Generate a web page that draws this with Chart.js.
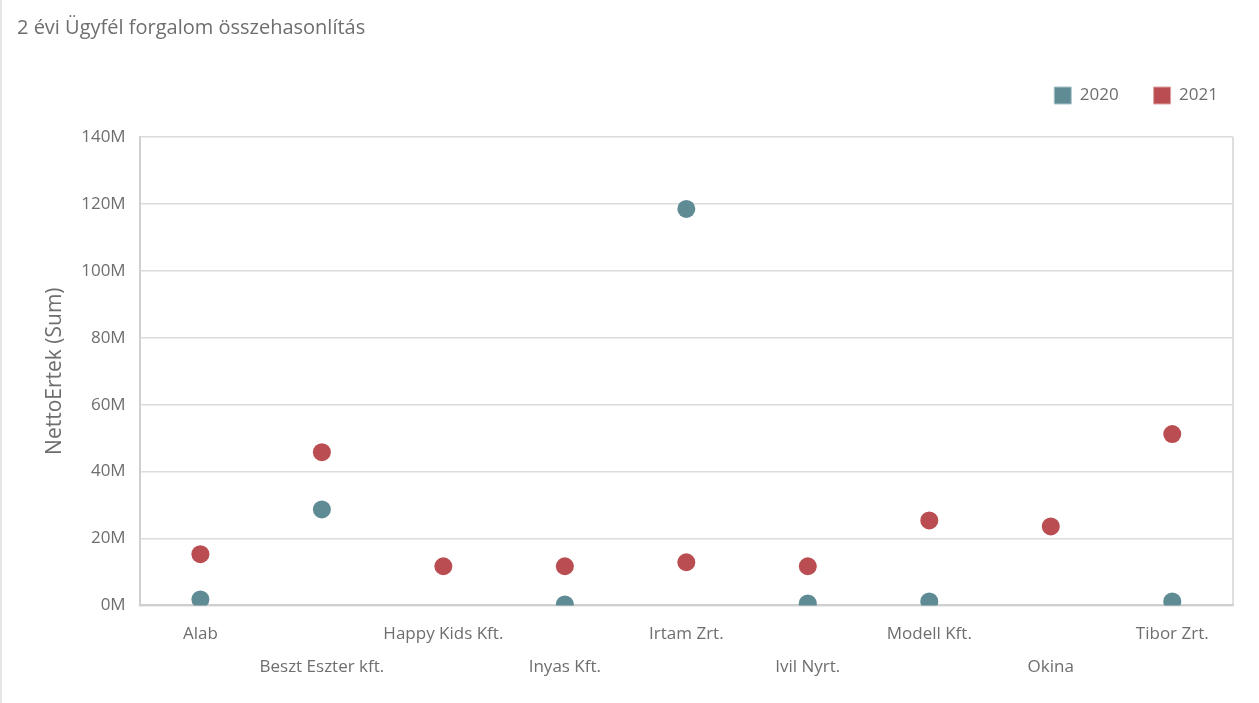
<!DOCTYPE html>
<html>
<head>
<meta charset="utf-8">
<script src="https://cdn.jsdelivr.net/npm/chart.js@4"></script>
<style>
  html, body { margin: 0; padding: 0; background: #fff; }
  #wrap { position: relative; width: 1259px; height: 703px; box-sizing: border-box; border-left: 2px solid #e6e6e6; }
</style>
</head>
<body>
<div id="wrap"><canvas id="main-chart"></canvas></div>
<script>
var customers = ["Alab", "Beszt Eszter kft.", "Happy Kids Kft.", "Inyas Kft.", "Irtam Zrt.", "Ivil Nyrt.", "Modell Kft.", "Okina", "Tibor Zrt."];
var values2020 = [1.8e6, 28.7e6, null, 0.3e6, 118.5e6, 0.6e6, 1.2e6, null, 1.2e6];
var values2021 = [15.3e6, 45.8e6, 11.7e6, 11.7e6, 12.9e6, 11.7e6, 25.4e6, 23.6e6, 51.2e6];
var yTicks = [0, 20e6, 40e6, 60e6, 80e6, 100e6, 120e6, 140e6];

var textColor = '#6e6e6e';
var fontFamily = '"Open Sans", "Noto Sans", sans-serif';

// right border of plot area
var frame = {
    id: 'frame',
    afterDraw(chart) {
        var a = chart.chartArea, c = chart.ctx;
        c.save();
        c.strokeStyle = '#d4d4d4';
        c.lineWidth = 1.5;
        c.beginPath();
        c.moveTo(a.right, a.top);
        c.lineTo(a.right, a.bottom);
        c.stroke();
        c.restore();
    }
};

// more room under the legend, and push it a bit to the right
var legendSpace = {
    id: 'legendSpace',
    beforeInit(chart) {
        var origFit = chart.legend.fit;
        chart.legend.fit = function () {
            origFit.call(this);
            this.height += 23;
        };
    },
    afterLayout(chart) {
        chart.legend.left += 20;
        chart.legend.right += 20;
    }
};

var chartDegree = document.querySelector('#main-chart').getContext('2d');
var myChart = new Chart(chartDegree, {
    type: 'line',
    data: {
        labels: customers,
        datasets: [{
            label: '2020',
            data: values2020,
            showLine: false,
            pointRadius: 9,
            pointHoverRadius: 9,
            pointBorderWidth: 0,
            backgroundColor: '#5f8b95',
            borderColor: '#a9c2c8',
            pointBackgroundColor: '#5f8b95',
            clip: 0
        }, {
            label: '2021',
            data: values2021,
            showLine: false,
            pointRadius: 9,
            pointHoverRadius: 9,
            pointBorderWidth: 0,
            backgroundColor: '#ba4d51',
            borderColor: '#dca4a6',
            pointBackgroundColor: '#ba4d51',
            clip: 0
        }]
    },
    options: {
        responsive: true,
        maintainAspectRatio: false,
        animation: false,
        layout: { padding: { left: 15, right: 26, top: 0, bottom: 7 } },
        plugins: {
            title: {
                display: true,
                text: '2 évi Ügyfél forgalom összehasonlítás',
                align: 'start',
                color: textColor,
                font: { family: fontFamily, size: 20, weight: 'normal' },
                padding: { top: 16, bottom: 12 }
            },
            legend: {
                align: 'end',
                labels: {
                    boxWidth: 17,
                    boxHeight: 17,
                    padding: 35,
                    color: textColor,
                    font: { family: fontFamily, size: 17 },
                    generateLabels(chart) {
                        return chart.data.datasets.map((ds, i) => ({
                            text: ds.label,
                            fillStyle: ds.backgroundColor,
                            strokeStyle: ds.borderColor,
                            lineWidth: 1,
                            fontColor: textColor,
                            datasetIndex: i
                        }));
                    }
                }
            },
            tooltip: { enabled: false }
        },
        scales: {
            x: {
                offset: true,
                grid: { display: false, drawTicks: false },
                border: { color: '#cfcfcf', width: 2 },
                ticks: {
                    autoSkip: false,
                    maxRotation: 0,
                    padding: 13,
                    color: textColor,
                    font: { family: fontFamily, size: 17, lineHeight: 1.9 },
                    callback(v, i) {
                        var name = customers[i];
                        return i % 2 === 1 ? ['', name] : name;
                    }
                }
            },
            y: {
                min: 0,
                max: 140e6,
                afterBuildTicks(axis) {
                    axis.ticks = yTicks.map(v => ({ value: v }));
                },
                grid: { color: '#dcdcdc', lineWidth: 1.5, drawTicks: false },
                border: { color: '#cfcfcf', width: 2 },
                ticks: {
                    padding: 14,
                    color: textColor,
                    font: { family: fontFamily, size: 17 },
                    callback(v) { return (v / 1e6) + 'M'; }
                },
                title: {
                    display: true,
                    text: 'NettoErtek (Sum)',
                    color: textColor,
                    font: { family: fontFamily, size: 21 },
                    padding: { top: 25, bottom: 0 }
                }
            }
        }
    },
    plugins: [frame, legendSpace]
});
</script>
</body>
</html>
